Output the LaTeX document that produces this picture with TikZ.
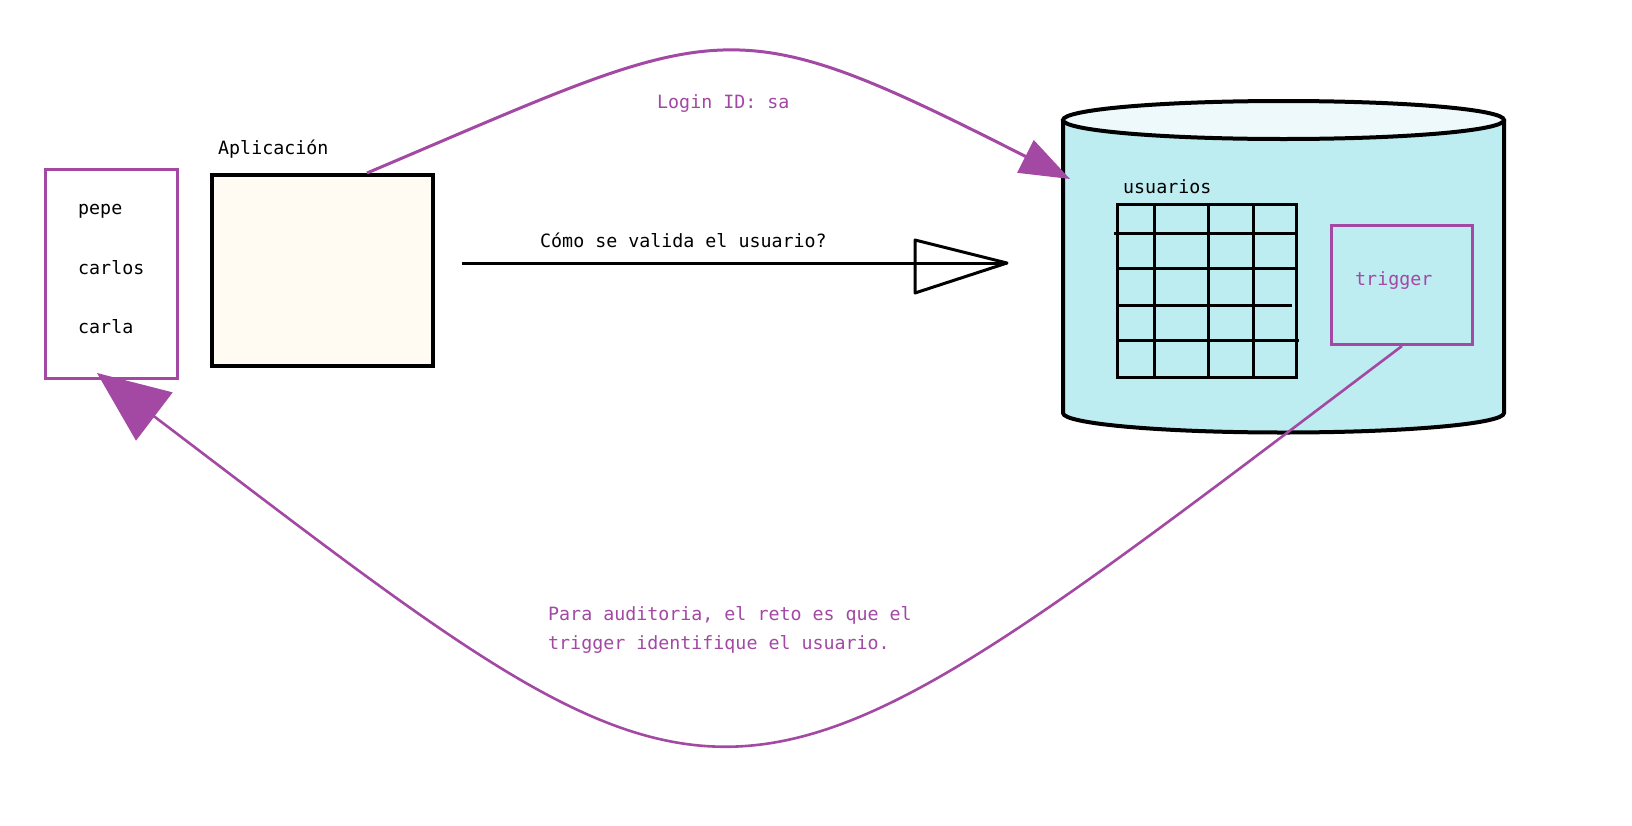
\documentclass[tikz,border=0pt]{standalone}
\usepackage{fontspec}
\setmainfont{DejaVu Sans Mono}
\usetikzlibrary{arrows.meta}
\definecolor{paintPurple}{HTML}{A349A4}
\definecolor{dbBody}{HTML}{BDECF1}
\definecolor{dbLid}{HTML}{EEF9FB}
\definecolor{appCream}{HTML}{FFFBF3}
\tikzset{
	box/.style={rectangle, inner sep=0pt, anchor=north west},
	txt/.style={anchor=base west, inner sep=0pt, font=\fontsize{18.3}{22}\selectfont},
}
\begin{document}
\begin{tikzpicture}[x=1pt, y=1pt, yscale=-1]
		\path[fill=white, use as bounding box] (0,0) rectangle (1632,825);
		% usuarios de la aplicacion
		\node[box, draw=paintPurple, line width=3pt, minimum width=132pt, minimum height=209pt](userList) at (44,168){};
		\node[txt](pepe) at (78,214){pepe};
		\node[txt](carlos) at (78,274){carlos};
		\node[txt](carla) at (78,333){carla};
		\node[box, draw=black, line width=3.5pt, fill=appCream, minimum width=221pt, minimum height=191pt](appBox) at (210,173){};
		\node[txt](appLabel) at (218,154){Aplicación};
		% base de datos
		\fill[dbBody] (1063,120) -- (1063,413) arc[start angle=180, end angle=0, x radius=220.5, y radius=19.5] -- (1504,120) -- cycle;
		\draw[line width=4pt] (1063,120) -- (1063,413) arc[start angle=180, end angle=0, x radius=220.5, y radius=19.5] -- (1504,120);
		\draw[line width=4pt, fill=dbLid] (1283.5,120) ellipse[x radius=220.5, y radius=19];
		\node[box, draw=black, line width=3pt, minimum width=179pt, minimum height=173pt](userTable) at (1116,203){};
		\foreach \gx/\gyb in {1154/376, 1208/376, 1253/378}
			\draw[line width=3pt] (\gx,203) -- (\gx,\gyb);
		\foreach \gy/\gxa/\gxb in {233/1114/1295, 268/1116/1298, 305/1116/1292, 340/1116/1299}
			\draw[line width=3pt] (\gxa,\gy) -- (\gxb,\gy);
		\node[txt](tableLabel) at (1123,193){usuarios};
		\node[box, draw=paintPurple, line width=3pt, minimum width=141pt, minimum height=119pt](trigBox) at (1330,224){};
		\node[txt, text=paintPurple](trigLabel) at (1355,285){trigger};
		% pregunta
		\coordinate (askFrom) at (462,263);
		\coordinate (askTip) at (1007,263);
		\draw[line width=3pt] (askFrom) -- (askTip);
		\draw[line width=3pt, line join=round] (askTip) -- (915,240) -- (915,293) -- cycle;
		\node[txt](askLabel) at (540,247){Cómo se valida el usuario?};
		% login
		\coordinate (loginFrom) at (367,173);
		\coordinate (loginTip) at (1070,179);
		\draw[paintPurple, line width=3pt, -{Triangle[length=50pt, width=36pt]}] (loginFrom) .. controls (726,21) and (723,3) .. (loginTip);
		\node[txt, text=paintPurple](loginLabel) at (657,108){Login ID: sa};
		% auditoria
		\coordinate (listTip) at (97,373);
		\draw[paintPurple, line width=2.6pt, -{Triangle[length=72pt, width=60pt]}] (trigBox.south) .. controls (710,868) and (749,868) .. (listTip);
		\node[txt, text=paintPurple](auditLineA) at (548,620){Para auditoria, el reto es que el};
		\node[txt, text=paintPurple](auditLineB) at (548,649){trigger identifique el usuario.};
	\end{tikzpicture}
\end{document}
